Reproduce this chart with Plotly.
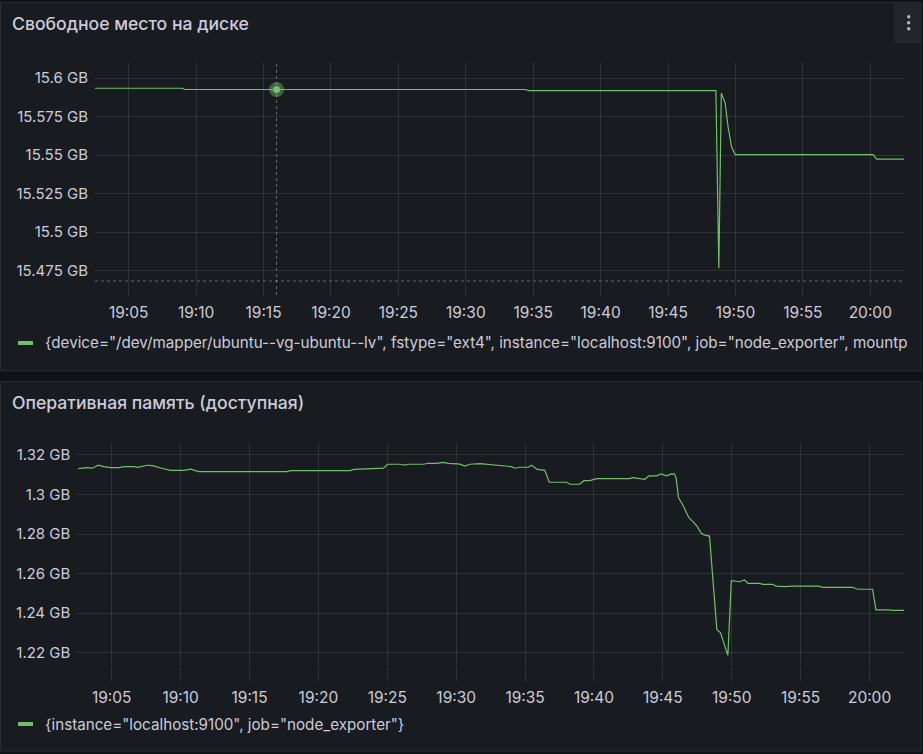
import plotly.graph_objects as go
import pandas as pd

W, H = 923, 754
DAY = "2024-01-01 "

# ---------------- data ----------------
disk_times = ["19:02:30", "19:08:58", "19:09:10", "19:34:25", "19:34:39", "19:48:33",
              "19:48:46", "19:48:57", "19:49:14", "19:49:27", "19:49:43", "19:49:59",
              "20:00:13", "20:00:28", "20:02:30"]
disk_values = [15.5935, 15.5935, 15.5927, 15.5927, 15.5920, 15.5920,
               15.4766, 15.5903, 15.5840, 15.5686, 15.5553, 15.5504,
               15.5504, 15.5474, 15.5474]
hover_time = ["19:15:58"]
hover_value = [15.5927]

mem_times = ["19:02:34", "19:03:14", "19:03:36", "19:04:01", "19:04:26", "19:04:56",
             "19:05:32", "19:05:53", "19:06:37", "19:06:52", "19:07:35", "19:07:57",
             "19:08:33", "19:09:16", "19:10:14", "19:10:43", "19:11:19", "19:17:44",
             "19:17:58", "19:22:19", "19:22:33", "19:23:46", "19:24:00", "19:24:43",
             "19:25:01", "19:25:56", "19:26:18", "19:26:32", "19:27:37", "19:27:59",
             "19:28:35", "19:29:04", "19:29:26", "19:30:17", "19:30:38", "19:31:00",
             "19:31:44", "19:32:27", "19:33:25", "19:34:01", "19:34:16", "19:34:37",
             "19:35:14", "19:35:28", "19:35:53", "19:36:26", "19:36:45", "19:38:01",
             "19:38:15", "19:38:58", "19:39:16", "19:39:42", "19:40:11", "19:42:35",
             "19:42:50", "19:43:41", "19:43:59", "19:44:32", "19:44:53", "19:45:15",
             "19:45:37", "19:45:51", "19:45:58", "19:46:08", "19:46:27", "19:46:53",
             "19:47:11", "19:47:28", "19:47:47", "19:48:02", "19:48:23", "19:48:55",
             "19:49:11", "19:49:43", "19:49:58", "19:50:34", "19:50:56", "19:51:10",
             "19:52:01", "19:52:15", "19:52:58", "19:53:13", "19:53:49", "19:54:25",
             "19:56:21", "19:56:35", "19:58:46", "19:59:08", "20:00:13", "20:00:28",
             "20:01:25", "20:01:40", "20:02:30"]
mem_values = [1.3131, 1.3136, 1.3133, 1.3148, 1.3141, 1.3136,
              1.3136, 1.3141, 1.3141, 1.3137, 1.3148, 1.3146,
              1.3134, 1.3122, 1.3122, 1.3128, 1.3116, 1.3116,
              1.3121, 1.3121, 1.3127, 1.3129, 1.3133, 1.3133,
              1.3153, 1.3153, 1.3149, 1.3153, 1.3153, 1.3158,
              1.3158, 1.3163, 1.3158, 1.3154, 1.3144, 1.3153,
              1.3156, 1.3151, 1.3144, 1.3141, 1.3133, 1.3138,
              1.3138, 1.3148, 1.3127, 1.3122, 1.3062, 1.3062,
              1.3052, 1.3052, 1.3070, 1.3070, 1.3080, 1.3080,
              1.3085, 1.3077, 1.3094, 1.3094, 1.3104, 1.3094,
              1.3104, 1.3103, 1.3082, 1.2984, 1.2947, 1.2883,
              1.2863, 1.2841, 1.2804, 1.2795, 1.2790, 1.2318,
              1.2301, 1.2187, 1.2564, 1.2559, 1.2568, 1.2551,
              1.2551, 1.2546, 1.2546, 1.2537, 1.2534, 1.2537,
              1.2537, 1.2531, 1.2531, 1.2521, 1.2521, 1.2417,
              1.2417, 1.2414, 1.2414]

disk_ticks = [15.475, 15.5, 15.525, 15.55, 15.575, 15.6]
disk_tick_labels = ["15.475 GB", "15.5 GB", "15.525 GB", "15.55 GB", "15.575 GB", "15.6 GB"]
mem_ticks = [1.22, 1.24, 1.26, 1.28, 1.30, 1.32]
mem_tick_labels = ["1.22 GB", "1.24 GB", "1.26 GB", "1.28 GB", "1.3 GB", "1.32 GB"]

title_disk = "Свободное место на диске"
title_mem = "Оперативная память (доступная)"
legend_disk = '{device="/dev/mapper/ubuntu--vg-ubuntu--lv", fstype="ext4", instance="localhost:9100", job="node_exporter", mountp'
legend_mem = '{instance="localhost:9100", job="node_exporter"}'

x_range = [DAY + "19:02:30", DAY + "20:02:30"]

# ---------------- styling ----------------
CANVAS = "#111217"
PANEL = "#181b1f"
BORDER = "#2a2d33"
TEXT = "#ccccdc"
GRID = "rgba(204,204,220,0.13)"
GREEN = "#73bf69"
FONT = "Inter"


def px(x):
    return x / W


def py(y):
    return 1 - y / H


def to_dt(ts):
    return pd.to_datetime([DAY + t for t in ts])


fig = go.Figure()

fig.add_trace(go.Scatter(x=to_dt(disk_times), y=disk_values, mode="lines",
                         line=dict(color=GREEN, width=1.2), xaxis="x", yaxis="y",
                         showlegend=False, hoverinfo="skip"))
fig.add_trace(go.Scatter(x=to_dt(hover_time), y=hover_value, mode="markers",
                         marker=dict(color="rgba(115,191,105,0.45)", size=15),
                         xaxis="x", yaxis="y", showlegend=False, hoverinfo="skip"))
fig.add_trace(go.Scatter(x=to_dt(hover_time), y=hover_value, mode="markers",
                         marker=dict(color=GREEN, size=7),
                         xaxis="x", yaxis="y", showlegend=False, hoverinfo="skip"))
fig.add_trace(go.Scatter(x=to_dt(mem_times), y=mem_values, mode="lines",
                         line=dict(color=GREEN, width=1.2), xaxis="x2", yaxis="y2",
                         showlegend=False, hoverinfo="skip"))

xaxis_common = dict(
    type="date", range=pd.to_datetime(x_range), tickformat="%H:%M", dtick=300000,
    tick0=DAY + "19:00:00", showgrid=True, gridcolor=GRID, gridwidth=1,
    ticks="outside", ticklen=14, tickcolor=GRID, tickwidth=1,
    showline=False, zeroline=False, ticklabelstandoff=3,
    tickfont=dict(family=FONT, size=15.5, color=TEXT), fixedrange=True,
)
yaxis_common = dict(
    showgrid=True, gridcolor=GRID, gridwidth=1, ticks="", showline=False,
    zeroline=False, tickfont=dict(family=FONT, size=15, color=TEXT),
    ticklabelstandoff=6, fixedrange=True,
)

shapes = [
    # panels
    dict(type="rect", xref="paper", yref="paper", x0=px(0.5), x1=px(921), y0=py(2.5), y1=py(371),
         fillcolor=PANEL, line=dict(color=BORDER, width=1), layer="below"),
    dict(type="rect", xref="paper", yref="paper", x0=px(0.5), x1=px(921), y0=py(381.5), y1=py(751),
         fillcolor=PANEL, line=dict(color=BORDER, width=1), layer="below"),
    # menu button
    dict(type="rect", xref="paper", yref="paper", x0=px(894), x1=px(922), y0=py(3), y1=py(43),
         fillcolor="#22252b", line=dict(width=0), layer="below"),
    # hover crosshair
    dict(type="line", xref="x", yref="y domain", x0=to_dt(hover_time)[0], x1=to_dt(hover_time)[0],
         y0=-0.064, y1=1, line=dict(color="rgba(204,204,220,0.45)", width=1, dash="dot")),
    dict(type="line", xref="x domain", yref="y domain", x0=0, x1=1, y0=0, y1=0,
         line=dict(color="rgba(204,204,220,0.45)", width=1, dash="dot")),
    # legend swatches
    dict(type="line", xref="paper", yref="paper", x0=px(18), x1=px(33), y0=py(343), y1=py(343),
         line=dict(color=GREEN, width=4)),
    dict(type="line", xref="paper", yref="paper", x0=px(18), x1=px(33), y0=py(724), y1=py(724),
         line=dict(color=GREEN, width=4)),
]
for dy in (16.7, 22.7, 28.7):
    shapes.append(dict(type="circle", xref="paper", yref="paper",
                       x0=px(907), x1=px(910.4), y0=py(dy - 1.7), y1=py(dy + 1.7),
                       fillcolor="#b8b8c4", line=dict(width=0)))

annotations = [
    dict(text=title_disk, x=px(10), y=py(23), xref="paper", yref="paper", xanchor="left",
         yanchor="middle", showarrow=False, font=dict(family=FONT, size=17.6, color=TEXT, weight=500)),
    dict(text=title_mem, x=px(10), y=py(403), xref="paper", yref="paper", xanchor="left",
         yanchor="middle", showarrow=False, font=dict(family=FONT, size=17.6, color=TEXT, weight=500)),
    dict(text=legend_disk, x=px(42.5), y=py(343), xref="paper", yref="paper", xanchor="left",
         yanchor="middle", showarrow=False, font=dict(family=FONT, size=15.2, color=TEXT)),
    dict(text=legend_mem, x=px(42.5), y=py(724), xref="paper", yref="paper", xanchor="left",
         yanchor="middle", showarrow=False, font=dict(family=FONT, size=15.2, color=TEXT)),
]

fig.update_layout(
    width=W, height=H, margin=dict(l=0, r=0, t=0, b=0),
    paper_bgcolor=CANVAS, plot_bgcolor="rgba(0,0,0,0)",
    xaxis=dict(xaxis_common, domain=[px(95), px(904)], anchor="y"),
    yaxis=dict(yaxis_common, domain=[py(281), py(63)], range=[15.4683, 15.6099],
               tickvals=disk_ticks, ticktext=disk_tick_labels, anchor="x"),
    xaxis2=dict(xaxis_common, domain=[px(77.3), px(904)], anchor="y2"),
    yaxis2=dict(yaxis_common, domain=[py(666), py(443.3)], range=[1.2133, 1.3259],
                tickvals=mem_ticks, ticktext=mem_tick_labels, anchor="x2"),
    shapes=shapes, annotations=annotations, showlegend=False,
)

fig.write_html("out.html", config={"displayModeBar": False})
